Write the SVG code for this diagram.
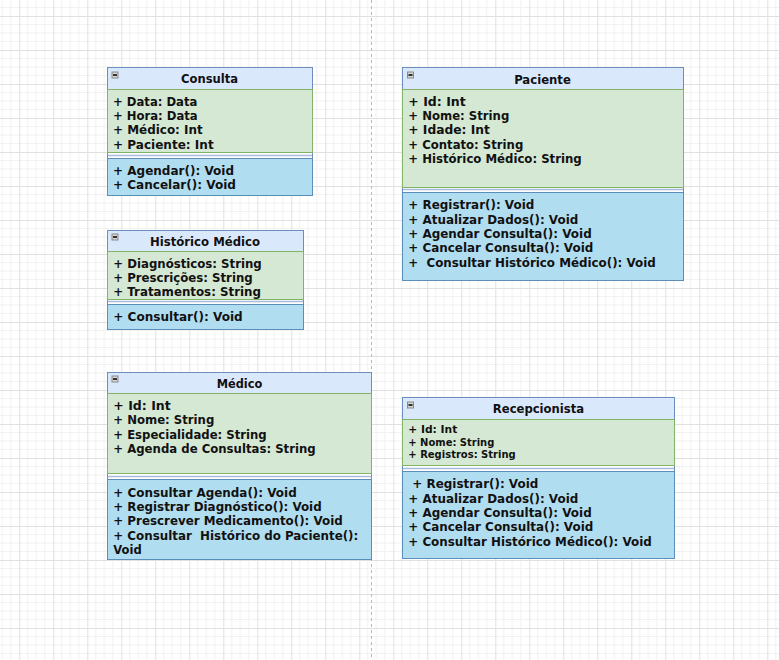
<svg xmlns="http://www.w3.org/2000/svg" width="779" height="660" viewBox="0 0 779 660">
<style>
.outer{fill:#ffffff;stroke:#6c8ebf;stroke-width:1}
.hdr{fill:#dae8fc;stroke:#6c8ebf;stroke-width:1}
.attr{fill:#d5e8d4;stroke:#82b366;stroke-width:1}
.meth{fill:#b1ddf0;stroke:#5b8fb9;stroke-width:1}
.sep{stroke:#a9bbdc;stroke-width:1.5}
.ico{fill:#d4d4d4;stroke:#8a8a8a;stroke-width:1}
.icol{stroke:#333333;stroke-width:2}
text{font-family:"DejaVu Sans","Verdana",sans-serif;font-weight:bold;font-size:11.7px;fill:#111111}
.t{text-anchor:middle}
.s{font-size:10px}
</style>
<defs>
<pattern id="grid" patternUnits="userSpaceOnUse" x="19.3" y="16" width="34" height="34">
<path d="M8.5 0V34M17 0V34M25.5 0V34M0 8.5H34M0 17H34M0 25.5H34" stroke="#f1f1f1" stroke-width="1" fill="none"/>
<path d="M0.5 0V34M0 0.5H34" stroke="#e0e0e0" stroke-width="1" fill="none"/>
</pattern>
<g id="icon">
<rect class="ico" x="0.5" y="0.5" width="6" height="6"/>
<line class="icol" x1="1.5" y1="3.5" x2="5.5" y2="3.5"/>
</g>
</defs>
<rect x="0" y="0" width="779" height="660" fill="#ffffff"/>
<rect x="0" y="0" width="779" height="660" fill="url(#grid)"/>
<line x1="371.5" y1="0" x2="371.5" y2="660" stroke="#b8b8b8" stroke-width="1" stroke-dasharray="3 3"/>

<g id="connectors"></g>

<g id="consulta">
<rect class="outer" x="107.5" y="67.5" width="205" height="128"/>
<rect class="hdr" x="107.5" y="67.5" width="205" height="22"/>
<use href="#icon" x="111.5" y="71.5"/>
<text class="t" x="209.5" y="83" textLength="57" lengthAdjust="spacingAndGlyphs">Consulta</text>
<rect class="attr" x="107.5" y="89.5" width="205" height="63"/>
<line class="sep" x1="108" y1="155.5" x2="312" y2="155.5"/>
<rect class="meth" x="107.5" y="158.5" width="205" height="37"/>
<text x="113" y="105.7" textLength="84.4" lengthAdjust="spacingAndGlyphs">+ Data: Data</text>
<text x="113" y="120" textLength="84.7" lengthAdjust="spacingAndGlyphs">+ Hora: Data</text>
<text x="113" y="134.3" textLength="89.7" lengthAdjust="spacingAndGlyphs">+ Médico: Int</text>
<text x="113" y="148.6" textLength="100.7" lengthAdjust="spacingAndGlyphs">+ Paciente: Int</text>
<text x="113" y="175" textLength="121" lengthAdjust="spacingAndGlyphs">+ Agendar(): Void</text>
<text x="113" y="189.3" textLength="123" lengthAdjust="spacingAndGlyphs">+ Cancelar(): Void</text>
</g>

<g id="paciente">
<rect class="outer" x="402.5" y="67.5" width="281" height="213"/>
<rect class="hdr" x="402.5" y="67.5" width="281" height="22"/>
<use href="#icon" x="407" y="71.5"/>
<text class="t" x="542.5" y="84" textLength="56.7" lengthAdjust="spacingAndGlyphs">Paciente</text>
<rect class="attr" x="402.5" y="89.5" width="281" height="98"/>
<line class="sep" x1="403" y1="189.5" x2="683" y2="189.5"/>
<rect class="meth" x="402.5" y="192.5" width="281" height="88"/>
<text x="408.3" y="105.7" textLength="57.4" lengthAdjust="spacingAndGlyphs">+ Id: Int</text>
<text x="408.3" y="120" textLength="101" lengthAdjust="spacingAndGlyphs">+ Nome: String</text>
<text x="408.3" y="134.3" textLength="81.7" lengthAdjust="spacingAndGlyphs">+ Idade: Int</text>
<text x="408.3" y="148.6" textLength="115" lengthAdjust="spacingAndGlyphs">+ Contato: String</text>
<text x="408.3" y="162.9" textLength="173.4" lengthAdjust="spacingAndGlyphs">+ Histórico Médico: String</text>
<text x="408.3" y="209.3" textLength="126" lengthAdjust="spacingAndGlyphs">+ Registrar(): Void</text>
<text x="408.3" y="223.6" textLength="170" lengthAdjust="spacingAndGlyphs">+ Atualizar Dados(): Void</text>
<text x="408.3" y="237.9" textLength="183.4" lengthAdjust="spacingAndGlyphs">+ Agendar Consulta(): Void</text>
<text x="408.3" y="252.2" textLength="185" lengthAdjust="spacingAndGlyphs">+ Cancelar Consulta(): Void</text>
<text x="408.3" y="266.5" textLength="247.4" lengthAdjust="spacingAndGlyphs" xml:space="preserve">+  Consultar Histórico Médico(): Void</text>
</g>

<g id="historico">
<rect class="outer" x="107.5" y="230.5" width="196" height="99"/>
<rect class="hdr" x="107.5" y="230.5" width="196" height="21"/>
<use href="#icon" x="111.5" y="233.5"/>
<text class="t" x="205" y="245.5" textLength="110" lengthAdjust="spacingAndGlyphs">Histórico Médico</text>
<rect class="attr" x="107.5" y="251.5" width="196" height="48"/>
<line class="sep" x1="108" y1="301.5" x2="303" y2="301.5"/>
<rect class="meth" x="107.5" y="304.5" width="196" height="25"/>
<text x="113.3" y="267.7" textLength="148.4" lengthAdjust="spacingAndGlyphs">+ Diagnósticos: String</text>
<text x="113.3" y="281.9" textLength="139.4" lengthAdjust="spacingAndGlyphs">+ Prescrições: String</text>
<text x="113.3" y="296.1" textLength="147.7" lengthAdjust="spacingAndGlyphs">+ Tratamentos: String</text>
<text x="113.3" y="320.5" textLength="129.4" lengthAdjust="spacingAndGlyphs">+ Consultar(): Void</text>
</g>

<g id="medico">
<rect class="outer" x="107.5" y="372.5" width="264" height="187"/>
<rect class="hdr" x="107.5" y="372.5" width="264" height="21"/>
<use href="#icon" x="111.5" y="375.5"/>
<text class="t" x="239.5" y="387.8" textLength="45.6" lengthAdjust="spacingAndGlyphs">Médico</text>
<rect class="attr" x="107.5" y="393.5" width="264" height="80"/>
<line class="sep" x1="108" y1="476.5" x2="371" y2="476.5"/>
<rect class="meth" x="107.5" y="479.5" width="264" height="80"/>
<text x="113.3" y="410" textLength="57.4" lengthAdjust="spacingAndGlyphs">+ Id: Int</text>
<text x="113.3" y="424.3" textLength="101" lengthAdjust="spacingAndGlyphs">+ Nome: String</text>
<text x="113.3" y="438.6" textLength="153.4" lengthAdjust="spacingAndGlyphs">+ Especialidade: String</text>
<text x="113.3" y="452.9" textLength="202.4" lengthAdjust="spacingAndGlyphs">+ Agenda de Consultas: String</text>
<text x="113.3" y="496.7" textLength="183.4" lengthAdjust="spacingAndGlyphs">+ Consultar Agenda(): Void</text>
<text x="113.3" y="511" textLength="208.4" lengthAdjust="spacingAndGlyphs">+ Registrar Diagnóstico(): Void</text>
<text x="113.3" y="525.3" textLength="229.4" lengthAdjust="spacingAndGlyphs">+ Prescrever Medicamento(): Void</text>
<text x="113.3" y="539.6" textLength="245" lengthAdjust="spacingAndGlyphs" xml:space="preserve">+ Consultar  Histórico do Paciente():</text>
<text x="113.3" y="553.9" textLength="28.4" lengthAdjust="spacingAndGlyphs">Void</text>
</g>

<g id="recepcionista">
<rect class="outer" x="402.5" y="397.5" width="272" height="161"/>
<rect class="hdr" x="402.5" y="397.5" width="272" height="22"/>
<use href="#icon" x="407" y="401.5"/>
<text class="t" x="538.5" y="413.3" textLength="91.3" lengthAdjust="spacingAndGlyphs">Recepcionista</text>
<rect class="attr" x="402.5" y="419.5" width="272" height="46"/>
<line class="sep" x1="403" y1="468.5" x2="674" y2="468.5"/>
<rect class="meth" x="402.5" y="471.5" width="272" height="87"/>
<text class="s" x="408.3" y="433.3" textLength="49" lengthAdjust="spacingAndGlyphs">+ Id: Int</text>
<text class="s" x="408.3" y="445.8" textLength="86" lengthAdjust="spacingAndGlyphs">+ Nome: String</text>
<text class="s" x="408.3" y="458.3" textLength="107.4" lengthAdjust="spacingAndGlyphs">+ Registros: String</text>
<text x="412.3" y="488.3" textLength="126" lengthAdjust="spacingAndGlyphs">+ Registrar(): Void</text>
<text x="408.3" y="502.6" textLength="170" lengthAdjust="spacingAndGlyphs">+ Atualizar Dados(): Void</text>
<text x="408.3" y="516.9" textLength="183.4" lengthAdjust="spacingAndGlyphs">+ Agendar Consulta(): Void</text>
<text x="408.3" y="531.2" textLength="185" lengthAdjust="spacingAndGlyphs">+ Cancelar Consulta(): Void</text>
<text x="408.3" y="545.5" textLength="243.4" lengthAdjust="spacingAndGlyphs">+ Consultar Histórico Médico(): Void</text>
</g>
</svg>
